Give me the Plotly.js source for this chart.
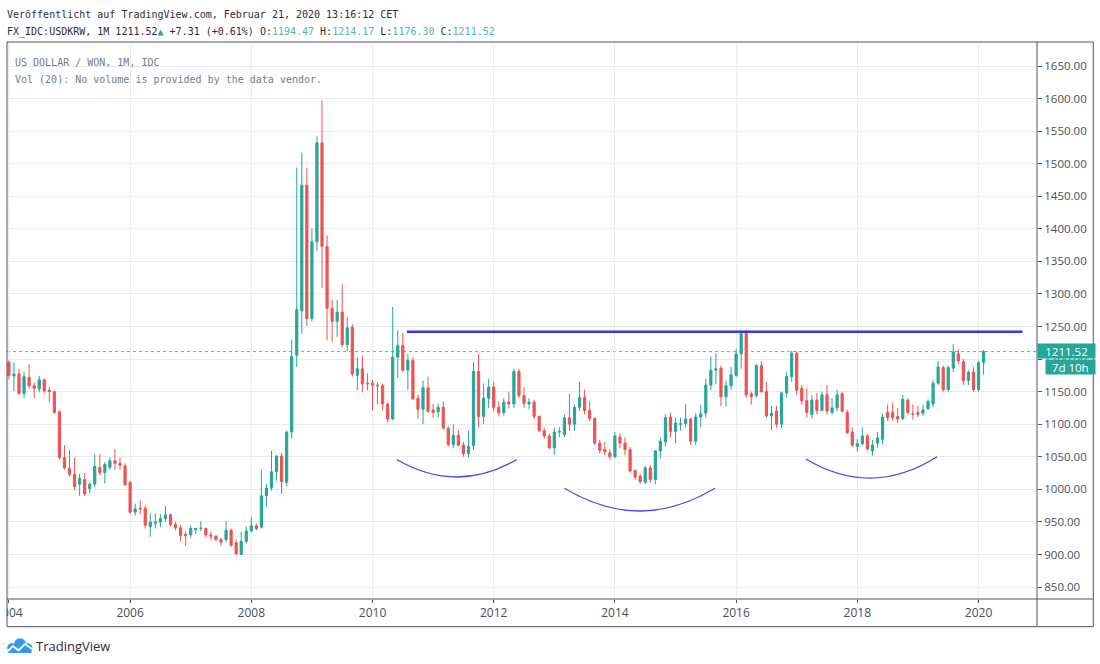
<!DOCTYPE html>
<html><head><meta charset="utf-8">
<script src="https://cdn.plot.ly/plotly-3.0.1.min.js"></script>
<style>html,body{margin:0;padding:0;background:#fff}#chart{width:1100px;height:664px}</style>
</head><body><div id="chart"></div>
<script>
// Monthly USD/KRW candles, Jan 2004 .. Feb 2020 (one entry per month)
const startYear = 2004;
const open = [
 1195,1174,1177,1147,1172,1159,1154,1168,1152,1150,1119,1049,
 1032,1023,1008,1015,1001,1008,1034,1026,1034,1044,1040,1036,
 1011,965,971,971,943,948,950,955,961,946,941,931,
 930,938,940,940,930,928,923,923,937,918,900,920,
 936,944,942,990,1002,1027,1051,1011,1088,1206,1274,1467,
 1262,1380,1532,1373,1278,1258,1272,1222,1249,1175,1185,1163,
 1163,1160,1159,1131,1108,1203,1221,1183,1198,1140,1123,1156,
 1122,1119,1126,1094,1069,1083,1068,1055,1067,1181,1112,1140,
 1157,1126,1118,1134,1131,1181,1144,1131,1134,1112,1090,1082,
 1064,1088,1084,1110,1100,1126,1141,1121,1109,1071,1061,1056,
 1050,1080,1071,1061,1029,1020,1011,1033,1015,1059,1073,1111,
 1089,1100,1101,1108,1074,1111,1117,1160,1183,1186,1142,1159,
 1175,1208,1239,1147,1144,1190,1150,1113,1120,1100,1148,1173,
 1209,1155,1136,1115,1137,1121,1145,1118,1125,1147,1118,1088,
 1066,1070,1082,1059,1071,1077,1118,1118,1112,1109,1137,1116,
 1118,1117,1124,1131,1163,1187,1153,1186,1208,1196,1167,1180,
 1153,1194.47
];
const high = [
 1198,1195,1185,1180,1192,1164,1174,1170,1157,1152,1121,1068,
 1060,1049,1024,1025,1011,1054,1054,1042,1049,1062,1049,1040,
 1012,978,983,975,963,963,962,975,963,950,945,935,
 944,941,951,941,935,930,925,951,940,923,935,943,
 958,947,1030,1008,1059,1053,1056,1090,1230,1494,1517,1493,
 1400,1542,1597,1390,1291,1291,1315,1264,1254,1203,1205,1178,
 1168,1164,1162,1133,1280,1244,1240,1208,1203,1145,1167,1173,
 1131,1132,1135,1097,1100,1091,1073,1090,1195,1208,1163,1170,
 1165,1135,1140,1150,1185,1185,1157,1140,1138,1113,1095,1086,
 1095,1095,1115,1147,1130,1165,1153,1135,1110,1076,1073,1062,
 1088,1086,1080,1065,1030,1024,1036,1037,1060,1080,1115,1118,
 1110,1110,1131,1110,1117,1130,1170,1204,1209,1190,1167,1188,
 1216,1245,1245,1150,1192,1197,1165,1128,1128,1150,1180,1213,
 1212,1160,1155,1145,1148,1150,1160,1140,1153,1150,1122,1095,
 1077,1095,1085,1076,1088,1116,1130,1133,1125,1145,1140,1130,
 1128,1130,1138,1168,1197,1190,1190,1223,1215,1200,1183,1188,
 1197,1214.17
];
const low = [
 1169,1151,1145,1140,1155,1140,1149,1147,1134,1116,1045,1030,
 1020,999,990,990,994,1003,1022,1009,1030,1030,1030,1005,
 962,960,962,940,927,940,942,950,943,937,920,913,
 926,931,936,926,922,920,913,919,912,899,900,917,
 934,937,940,973,998,1013,993,1005,1078,1188,1239,1251,
 1258,1366,1309,1229,1226,1234,1218,1212,1173,1152,1149,1152,
 1121,1131,1121,1103,1106,1171,1180,1153,1137,1108,1100,1117,
 1110,1110,1092,1066,1063,1066,1050,1049,1060,1095,1100,1125,
 1120,1112,1113,1125,1125,1140,1125,1123,1108,1088,1078,1061,
 1053,1080,1080,1090,1090,1120,1115,1105,1068,1055,1052,1046,
 1048,1063,1052,1026,1015,1008,1008,1010,1008,1047,1066,1080,
 1071,1090,1095,1068,1068,1095,1110,1152,1162,1128,1127,1153,
 1172,1185,1141,1130,1141,1148,1110,1091,1095,1094,1141,1165,
 1145,1130,1110,1108,1115,1120,1115,1115,1120,1118,1085,1065,
 1058,1068,1060,1052,1064,1069,1105,1105,1102,1106,1115,1107,
 1111,1113,1122,1126,1160,1150,1150,1180,1192,1160,1160,1150,
 1150,1176.30
];
const close = [
 1175,1177,1147,1173,1159,1155,1168,1151,1150,1118,1049,1033,
 1023,1004,1017,993,1008,1035,1026,1038,1044,1040,1037,1007,
 965,970,970,945,950,950,955,961,946,941,929,929,
 940,940,940.5,930,928,923,919,937,914,901,920,936,
 944,940,990,1002,1027,1051,1012,1088,1204,1276,1467,1262,
 1380,1532,1373,1278,1258,1272,1222,1248,1177,1185,1162,1162,
 1160,1159,1131,1108,1203,1221,1183,1198,1139,1123,1156,1120,
 1118,1126,1094,1069,1083,1068,1055,1066,1181,1112,1140,1157,
 1126,1118,1134,1131,1181,1144,1132,1134,1112,1090,1082,1064,
 1088,1089,1110,1100,1126,1141,1121,1109,1071,1060,1058,1050,
 1082,1071,1061,1028,1019,1012,1033,1015,1059,1074,1110,1089,
 1102,1100.5,1108,1074,1111,1116,1160,1183,1185,1142,1159,1176,
 1208,1239,1145,1142,1190,1150,1113,1117,1100,1148,1173,1209,
 1152,1136,1118,1137,1121,1145,1120,1125,1145,1120,1087,1068,
 1070,1082,1062,1068,1079,1111,1110,1110,1108,1138,1118,1115,
 1115,1122,1135,1163,1188,1153,1187,1211,1197,1167,1180,1153,
 1194.47,1211.52
];
const tickYears = ['2004','2006','2008','2010','2012','2014','2016','2018','2020'];
const lastPrice = 1211.52;
const timeLeft = '7d 10h';

// drawings (month index from Jan 2004, price)
const resistanceLevel = 1242;
const resistanceFrom = 78.8, resistanceTo = 200.7;
const arcStart = [76.8, 110.0, 157.8];
const arcEnd = [100.6, 139.8, 183.8];
const arcStartPrice = [1045.8, 1001.6, 1046.6];
const arcEndPrice = [1045.8, 1001.6, 1050.1];
const arcBottomPrice = [1019, 966.8, 1017.4];

// ---------- layout helpers ----------
const W = 1100, H = 664, ML = 7, MR = 63, MT = 42, MB = 65;
const PW = W - ML - MR, PH = H - MT - MB;
const px = v => (v - ML) / PW;
const py = v => (H - MB - v) / PH;

const monthIdx = open.map((_, i) => i);
const tickVals = tickYears.map(y => (parseInt(y) - startYear) * 12);

const UP = '#26a69a', DOWN = '#ef5350';
const trace = {
  type: 'candlestick',
  x: monthIdx, open: open, high: high, low: low, close: close,
  increasing: {line: {color: UP, width: 1}, fillcolor: UP},
  decreasing: {line: {color: DOWN, width: 1}, fillcolor: DOWN},
  whiskerwidth: 0,
  hoverinfo: 'skip',
  showlegend: false
};

const BLUE = '#3434f4';
const FRAME = '#50535e';
const shapes = [];
// last price dotted line
shapes.push({type: 'line', xref: 'paper', yref: 'y', x0: 0, x1: 1, y0: lastPrice, y1: lastPrice,
  line: {color: '#5fb3ab', width: 1, dash: 'dot'}, layer: 'below'});
// resistance line
shapes.push({type: 'line', xref: 'x', yref: 'y', x0: resistanceFrom, x1: resistanceTo,
  y0: resistanceLevel, y1: resistanceLevel, line: {color: BLUE, width: 2.6}});
// arcs
for (let i = 0; i < arcStart.length; i++) {
  const xm = (arcStart[i] + arcEnd[i]) / 2;
  const cy = 2 * arcBottomPrice[i] - (arcStartPrice[i] + arcEndPrice[i]) / 2;
  shapes.push({type: 'path', xref: 'x', yref: 'y',
    path: `M ${arcStart[i]},${arcStartPrice[i]} Q ${xm},${cy} ${arcEnd[i]},${arcEndPrice[i]}`,
    line: {color: '#4646f2', width: 1.3}});
}
// mask clipped first tick label left of the pane
shapes.push({type: 'rect', xref: 'paper', yref: 'paper', x0: px(-30), x1: px(6.8), y0: py(626), y1: py(600),
  fillcolor: '#ffffff', line: {width: 0}, layer: 'above'});
// outer frame
shapes.push({type: 'rect', xref: 'paper', yref: 'paper', x0: 0, x1: px(1093.3), y0: py(626.7), y1: 1,
  line: {color: FRAME, width: 1}, layer: 'above'});
shapes.push({type: 'line', xref: 'paper', yref: 'paper', x0: 1, x1: 1, y0: py(626.7), y1: 1,
  line: {color: FRAME, width: 1}, layer: 'above'});
shapes.push({type: 'line', xref: 'paper', yref: 'paper', x0: 0, x1: px(1093.3), y0: 0, y1: 0,
  line: {color: FRAME, width: 1}, layer: 'above'});
// TradingView logo (cloud)
const LOGO = '#3399f0';
const circ = (cx, cy, r) => ({type: 'circle', xref: 'paper', yref: 'paper',
  x0: px(cx - r), x1: px(cx + r), y0: py(cy + r), y1: py(cy - r), fillcolor: LOGO, line: {width: 0}, layer: 'above'});
shapes.push(circ(12, 648, 4.8));
shapes.push(circ(20, 644.2, 6));
shapes.push(circ(27.5, 648, 4.8));
shapes.push({type: 'rect', xref: 'paper', yref: 'paper', x0: px(8), x1: px(31.5), y0: py(653), y1: py(647),
  fillcolor: LOGO, line: {width: 0}, layer: 'above'});
const zig = [[7.5, 651.5], [13, 646], [18.5, 650.5], [25, 644], [32, 649]];
shapes.push({type: 'path', xref: 'paper', yref: 'paper',
  path: 'M ' + zig.map(p => px(p[0]) + ',' + py(p[1])).join(' L '),
  line: {color: '#ffffff', width: 1.8}, layer: 'above'});

const MONO = 'DejaVu Sans Mono, monospace';
const TXT = '#2a2e39', GREY = '#787b86', NUM = '#4fb8ab';
const annotations = [
  {xref: 'paper', yref: 'paper', x: px(5), y: py(14.5), xanchor: 'left', yanchor: 'middle', showarrow: false,
   text: 'Veröffentlicht auf TradingView.com, Februar 21, 2020 13:16:12 CET', font: {family: MONO, size: 10, color: TXT}},
  {xref: 'paper', yref: 'paper', x: px(5), y: py(31.5), xanchor: 'left', yanchor: 'middle', showarrow: false,
   text: 'FX_IDC:USDKRW, 1M 1211.52<span style="color:' + UP + '">▲</span> +7.31 (+0.61%) O:<span style="color:' + NUM + '">1194.47</span> H:<span style="color:' + NUM + '">1214.17</span> L:<span style="color:' + NUM + '">1176.30</span> C:<span style="color:' + NUM + '">1211.52</span>',
   font: {family: MONO, size: 10, color: TXT}},
  {xref: 'paper', yref: 'paper', x: px(13), y: py(62.5), xanchor: 'left', yanchor: 'middle', showarrow: false,
   text: 'US DOLLAR / WON, 1M, IDC', font: {family: MONO, size: 10, color: GREY}},
  {xref: 'paper', yref: 'paper', x: px(13), y: py(80), xanchor: 'left', yanchor: 'middle', showarrow: false,
   text: 'Vol (20): No volume is provided by the data vendor.', font: {family: MONO, size: 10, color: GREY}},
  {xref: 'paper', yref: 'paper', x: px(34), y: py(646), xanchor: 'left', yanchor: 'middle', showarrow: false,
   text: 'TradingView', font: {family: 'Open Sans, sans-serif', size: 13, color: '#2a2e39'}},
  {xref: 'paper', yref: 'paper', x: 1, y: py(350.8), xanchor: 'left', yanchor: 'middle', showarrow: false,
   text: lastPrice.toFixed(2), bgcolor: UP, width: 56, height: 13, borderpad: 0.5, align: 'center',
   font: {family: 'Open Sans, sans-serif', size: 11.5, color: '#ffffff'}},
  {xref: 'paper', yref: 'paper', x: px(1045), y: py(367), xanchor: 'left', yanchor: 'middle', showarrow: false,
   text: timeLeft, bgcolor: UP, width: 47.5, height: 13, borderpad: 0.5, align: 'center',
   font: {family: 'Open Sans, sans-serif', size: 11.5, color: '#ffffff'}}
];

const GRID = '#e4ecf1';
const layout = {
  width: W, height: H,
  margin: {l: ML, r: MR, t: MT, b: MB, pad: 0},
  paper_bgcolor: '#ffffff', plot_bgcolor: '#ffffff',
  showlegend: false,
  boxgap: 0.38,
  xaxis: {
    type: 'linear', range: [-0.376, 203.58], fixedrange: true,
    tickmode: 'array', tickvals: tickVals, ticktext: tickYears,
    ticklabeloverflow: 'allow',
    ticks: 'outside', ticklen: 3, tickcolor: FRAME, tickwidth: 1,
    showgrid: true, gridcolor: GRID, gridwidth: 1, zeroline: false,
    showline: false,
    rangeslider: {visible: false},
    tickfont: {family: 'Open Sans, sans-serif', size: 12, color: '#4a4d57'}
  },
  yaxis: {
    side: 'right', range: [831.65, 1686.85], fixedrange: true,
    tickmode: 'linear', tick0: 0, dtick: 50, tickformat: '.2f',
    ticks: 'outside', ticklen: 4, tickcolor: FRAME, tickwidth: 1,
    showgrid: true, gridcolor: GRID, gridwidth: 1, zeroline: false,
    showline: false,
    tickfont: {family: 'Open Sans, sans-serif', size: 11.5, color: '#4a4d57'}
  },
  shapes: shapes,
  annotations: annotations
};

Plotly.newPlot('chart', [trace], layout, {displayModeBar: false, staticPlot: true});
</script>
</body></html>
